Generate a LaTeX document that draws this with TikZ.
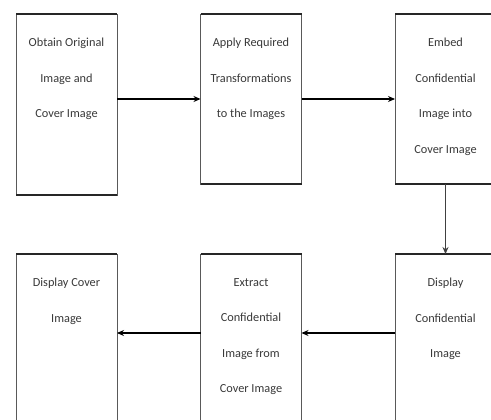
\documentclass[tikz,border=0pt]{standalone}
\usepackage{fontspec}
\setmainfont{Carlito}
\usetikzlibrary{arrows.meta,calc}
\begin{document}
\begin{tikzpicture}[x=1pt,y=-1pt,
  box/.style={draw=black!65, line width=0.8pt, minimum width=101pt, inner sep=0pt, outer sep=0pt},
  hedge/.style={draw=black!85, line width=1.5pt},
  txt/.style={anchor=north, align=center, inner sep=0pt, text=black!78,
    font=\fontsize{12.3}{35.5}\selectfont},
  arr/.style={draw=black, line width=1.1pt, -{Stealth[length=7pt,width=6pt]}},
  varr/.style={draw=black!75, line width=0.8pt, -{Stealth[length=7pt,width=6pt]}}]
\useasboundingbox (0,0) rectangle (491,420);
\clip (0,0) rectangle (491,420);
% top row
\node[box, minimum height=181pt] (b1) at (66.5,104.5) {};
\node[box, minimum height=170pt] (b2) at (251,99) {};
\node[box, minimum height=170pt] (b3) at (445.5,99) {};
% bottom row
\node[box, minimum height=200pt] (b4) at (66.5,354) {};
\node[box, minimum height=200pt] (b5) at (251,354) {};
\node[box, minimum height=200pt] (b6) at (445.5,354) {};
% heavier horizontal edges
\foreach \b in {b1,b2,b3}{
  \draw[hedge] (\b.north west) -- (\b.north east);
  \draw[hedge] (\b.south west) -- (\b.south east);
}
\foreach \b in {b4,b5,b6}{
  \draw[hedge] (\b.north west) -- (\b.north east);
}
% texts
\node[txt] (t1) at ([yshift=-24pt]b1.north) {Obtain Original\\Image and\\Cover Image};
\node[txt] (t2) at ([yshift=-24pt]b2.north) {Apply Required\\Transformations\\to the Images};
\node[txt] (t3) at ([yshift=-24pt]b3.north) {Embed\\Confidential\\Image into\\Cover Image};
\node[txt] (t4) at ([yshift=-24pt]b4.north) {Display Cover\\Image};
\node[txt] (t5) at ([yshift=-24pt]b5.north) {Extract\\Confidential\\Image from\\Cover Image};
\node[txt] (t6) at ([yshift=-24pt]b6.north) {Display\\Confidential\\Image};
% connectors
\draw[arr] (b1.east |- b2.west) -- (b2.west);
\draw[arr] (b2.east) -- (b3.west);
\draw[varr] (b3.south) -- (b6.north);
\draw[arr] ([yshift=-79pt]b6.north west) -- ([yshift=-79pt]b5.north east);
\draw[arr] ([yshift=-79pt]b5.north west) -- ([yshift=-79pt]b4.north east);
\end{tikzpicture}
\end{document}
